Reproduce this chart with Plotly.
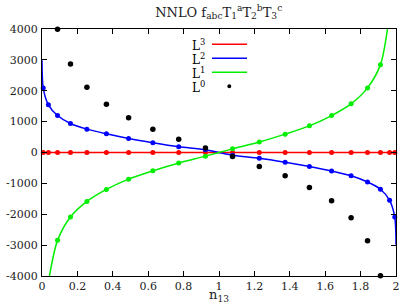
import plotly.graph_objects as go

# Sample positions (n13)
n13 = [0.0069, 0.0361, 0.0878, 0.1609, 0.2537, 0.3639, 0.4892, 0.6263, 0.7723, 0.9235,
       1.0765, 1.2277, 1.3737, 1.5108, 1.6361, 1.7463, 1.8391, 1.9122, 1.9639, 1.9931]

# Coefficients of L^k at each sample (None = off the visible range)
L3 = [0, 0, 0, 0, 0, 0, 0, 0, 0, 0, 0, 0, 0, 0, 0, 0, 0, 0, 0, 0]
L2 = [2092, 1543, 1197, 938, 757, 605, 453, 314, 184, 87,
      -87, -184, -314, -453, -600, -755, -955, -1190, -1548, -2090]
L1 = [None, None, -2846, -2089, -1585, -1197, -863, -595, -340, -118,
      118, 340, 595, 863, 1197, 1575, 2092, 2846, None, None]
L0 = [None, None, 3990, 2869, 2115, 1565, 1122, 757, 433, 142,
      -129, -453, -753, -1132, -1562, -2112, -2856, -3988, None, None]

# Smooth-curve readings at the plot edges
L3_edge_x, L3_edge_y = [0, 2], [0, 0]
L2_edge_x, L2_edge_y = [0, 2], [2990, -2990]
L1_edge_x, L1_edge_y = [0.042, 1.952], [-4000, 4000]

x_ticks = [0, 0.2, 0.4, 0.6, 0.8, 1, 1.2, 1.4, 1.6, 1.8, 2]
x_tick_text = ["0", "0.2", "0.4", "0.6", "0.8", "1", "1.2", "1.4", "1.6", "1.8", "2"]
y_ticks = [-4000, -3000, -2000, -1000, 0, 1000, 2000, 3000, 4000]
y_tick_text = ["-4000", "-3000", "-2000", "-1000", "0", "1000", "2000", "3000", "4000"]

series = [
    ("L<sup>3</sup>", L3, L3_edge_x, L3_edge_y, "#ff0000"),
    ("L<sup>2</sup>", L2, L2_edge_x, L2_edge_y, "#0000ff"),
    ("L<sup>1</sup>", L1, L1_edge_x, L1_edge_y, "#00ee00"),
]

FONT = "DejaVu Serif"
fig = go.Figure()

for name, ys, ex, ey, col in series:
    pts = [(x, y) for x, y in zip(n13, ys) if y is not None]
    pts = sorted(pts + list(zip(ex, ey)))
    fig.add_trace(go.Scatter(
        x=[p[0] for p in pts], y=[p[1] for p in pts], mode="lines",
        line=dict(color=col, width=1.5, shape="spline", smoothing=0.8),
        showlegend=False, hoverinfo="skip"))
    fig.add_trace(go.Scatter(
        x=n13, y=ys, mode="markers", marker=dict(color=col, size=5),
        showlegend=False, cliponaxis=False))

fig.add_trace(go.Scatter(
    x=n13, y=L0, mode="markers", marker=dict(color="black", size=5.5),
    showlegend=False, cliponaxis=False))

# Legend in gnuplot style (label left, sample right)
L, R, T, B = 42, 396, 29, 276.5
def px(x):
    return (x - L) / (R - L)
def py(y):
    return (B - y) / (B - T)

legend_rows = [("L<sup>3</sup>", "#ff0000", 44.3), ("L<sup>2</sup>", "#0000ff", 58.3),
               ("L<sup>1</sup>", "#00ee00", 72.3), ("L<sup>0</sup>", "black", 86.3)]
for i, (txt, col, yy) in enumerate(legend_rows):
    fig.add_annotation(x=px(207), y=py(yy + 1), xref="paper", yref="paper", text=txt,
                       showarrow=False, xanchor="right", yanchor="middle",
                       font=dict(family=FONT, size=12, color="black"))
    if i < 3:
        fig.add_shape(type="line", xref="paper", yref="paper",
                      x0=px(212), x1=px(247), y0=py(yy), y1=py(yy),
                      line=dict(color=col, width=1.5))
    else:
        fig.add_shape(type="circle", xref="paper", yref="paper",
                      x0=px(227.3), x1=px(231.3), y0=py(yy - 2), y1=py(yy + 2),
                      fillcolor="black", line=dict(color="black", width=0))

axis_common = dict(showgrid=False, zeroline=False, showline=True, linecolor="black",
                   linewidth=1, mirror="ticks", ticks="inside", ticklen=5,
                   tickcolor="black", automargin=False,
                   tickfont=dict(family=FONT, size=11, color="#222"))

fig.update_layout(
    width=405, height=304,
    margin=dict(l=42, r=9, t=29, b=27.5),
    paper_bgcolor="white", plot_bgcolor="white",
    title=dict(text="NNLO f<sub>abc</sub>T<sub>1</sub><sup>a</sup>T<sub>2</sub><sup>b</sup>T<sub>3</sub><sup>c</sup>",
               x=0.54, xanchor="center", y=0.96, yanchor="middle", automargin=False,
               font=dict(family=FONT, size=13, color="#222")),
    xaxis=dict(range=[0, 2], tickvals=x_ticks, ticktext=x_tick_text,
               title=dict(text="n<sub>13</sub>", standoff=3,
                          font=dict(family=FONT, size=13, color="#222")),
               **axis_common),
    yaxis=dict(range=[-4000, 4000], tickvals=y_ticks, ticktext=y_tick_text,
               ticklabelstandoff=1, **axis_common),
)

fig.write_html("out.html", config={"displayModeBar": False},
               post_script="document.body.style.margin='0';document.body.style.overflow='hidden';")
